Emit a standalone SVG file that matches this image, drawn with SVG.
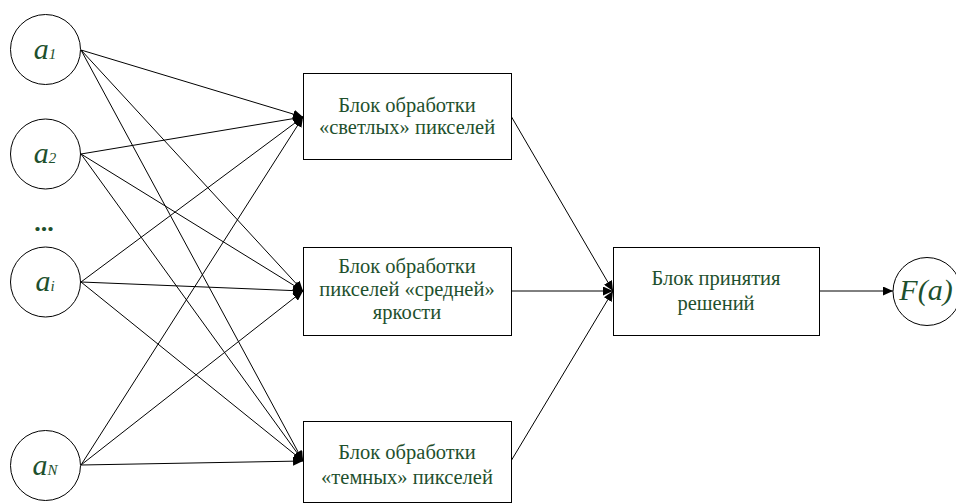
<svg xmlns="http://www.w3.org/2000/svg" width="956" height="504" viewBox="0 0 956 504">
<style>
.n{fill:#fff;stroke:#000;stroke-width:1}
.t{font-family:'Liberation Serif','Times New Roman','DejaVu Serif',serif;fill:#1e502d;font-size:20.5px;text-anchor:middle}
.v{font-family:'Liberation Serif','Times New Roman','DejaVu Serif',serif;fill:#1e502d;font-style:italic;text-anchor:middle}
.e{stroke:#000;stroke-width:1;fill:none;marker-end:url(#ah)}
</style>
<defs>
<marker id="ah" markerUnits="userSpaceOnUse" markerWidth="11" markerHeight="9" refX="10" refY="4.5" orient="auto">
<path d="M0,0 L10,4.5 L0,9 Z" fill="#000"/>
</marker>
</defs>
<rect width="956" height="504" fill="#fff"/>
<g id="connectors">
<line class="e" x1="81" y1="50" x2="303" y2="117"/>
<line class="e" x1="81" y1="50" x2="303" y2="291"/>
<line class="e" x1="81" y1="50" x2="303" y2="461"/>
<line class="e" x1="81" y1="154" x2="303" y2="117"/>
<line class="e" x1="81" y1="154" x2="303" y2="291"/>
<line class="e" x1="81" y1="154" x2="303" y2="461"/>
<line class="e" x1="81" y1="282" x2="303" y2="117"/>
<line class="e" x1="81" y1="282" x2="303" y2="291"/>
<line class="e" x1="81" y1="282" x2="303" y2="461"/>
<line class="e" x1="81" y1="465" x2="303" y2="117"/>
<line class="e" x1="81" y1="465" x2="303" y2="291"/>
<line class="e" x1="81" y1="465" x2="303" y2="461"/>
<line class="e" x1="511" y1="116" x2="613" y2="291"/>
<line class="e" x1="511" y1="291" x2="613" y2="291"/>
<line class="e" x1="511" y1="461" x2="613" y2="291"/>
<line class="e" x1="819" y1="291" x2="893" y2="291"/>
</g>
<g id="a1"><circle class="n" cx="45.5" cy="49.5" r="35"/><text class="v" x="45" y="59"><tspan style="font-size:30px">a</tspan><tspan style="font-size:15px">1</tspan></text></g>
<g id="a2"><circle class="n" cx="45.5" cy="154" r="35"/><text class="v" x="45" y="163"><tspan style="font-size:30px">a</tspan><tspan style="font-size:15px">2</tspan></text></g>
<g id="dots"><text class="t" x="44" y="231" style="font-size:26px;font-weight:bold">...</text></g>
<g id="ai"><circle class="n" cx="45.5" cy="282" r="35"/><text class="v" x="45" y="291"><tspan style="font-size:30px">a</tspan><tspan style="font-size:15px">i</tspan></text></g>
<g id="aN"><circle class="n" cx="45.5" cy="465.5" r="35"/><text class="v" x="45" y="475"><tspan style="font-size:30px">a</tspan><tspan style="font-size:15px">N</tspan></text></g>
<g id="b1"><rect class="n" x="303.5" y="73.5" width="208" height="86"/><text class="t" x="407" y="112">Блок обработки</text><text class="t" x="407" y="134">«светлых» пикселей</text></g>
<g id="b2"><rect class="n" x="303.5" y="247.5" width="208" height="88"/><text class="t" x="407" y="273">Блок обработки</text><text class="t" x="407" y="296">пикселей «средней»</text><text class="t" x="407" y="319">яркости</text></g>
<g id="b3"><rect class="n" x="303.5" y="421.5" width="208" height="81"/><text class="t" x="407" y="459">Блок обработки</text><text class="t" x="407" y="484">«темных» пикселей</text></g>
<g id="b4"><rect class="n" x="613.5" y="247.5" width="206" height="88"/><text class="t" x="716" y="285">Блок принятия</text><text class="t" x="716" y="310">решений</text></g>
<g id="Fa"><circle class="n" cx="927" cy="291.5" r="34"/><text class="v" x="926" y="300" style="font-size:30px">F(a)</text></g>
</svg>
